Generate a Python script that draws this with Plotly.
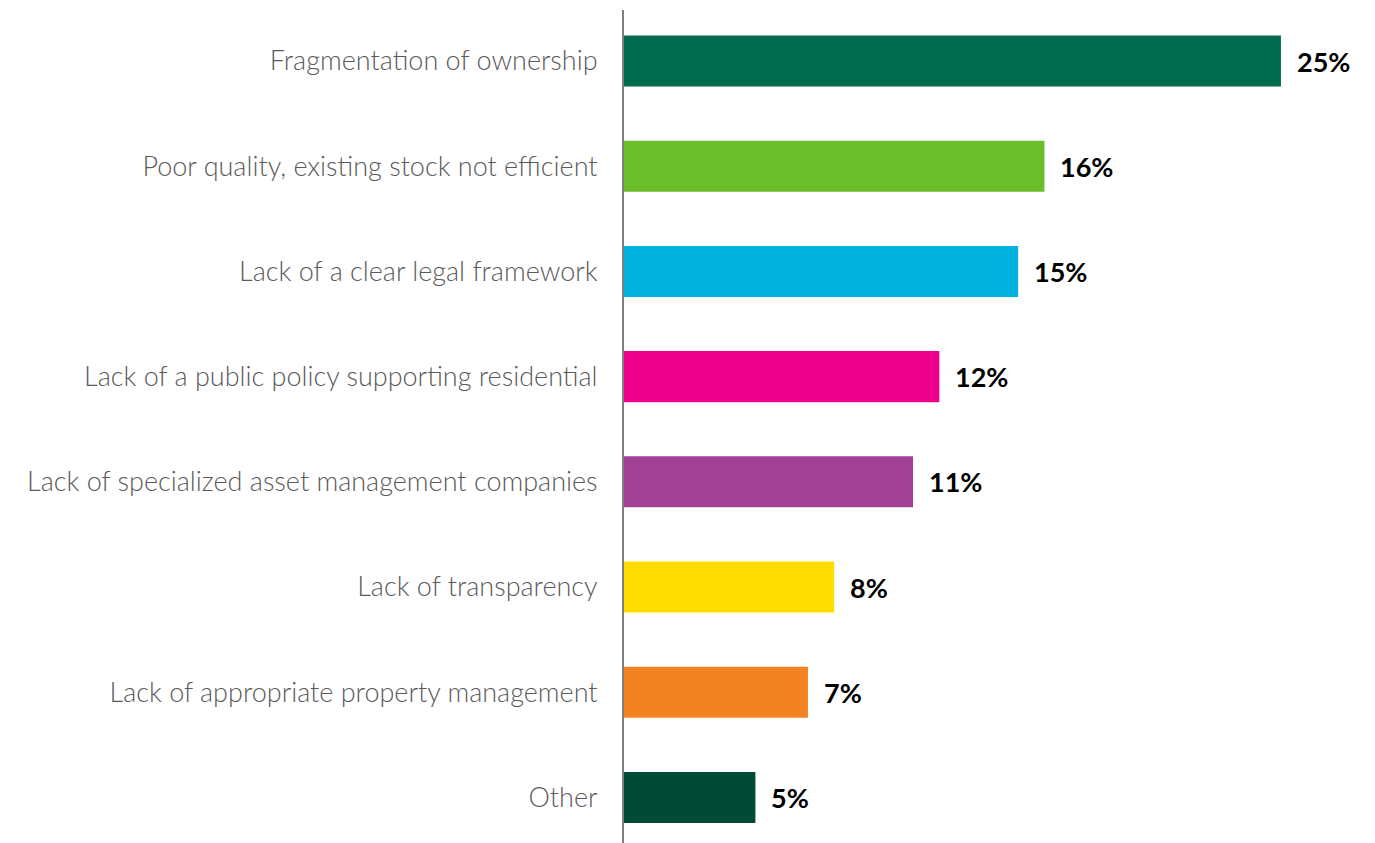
import plotly.graph_objects as go

categories = [
    "Fragmentation of ownership",
    "Poor quality, existing stock not efficient",
    "Lack of a clear legal framework",
    "Lack of a public policy supporting residential",
    "Lack of specialized asset management companies",
    "Lack of transparency",
    "Lack of appropriate property management",
    "Other",
]
values = [25, 16, 15, 12, 11, 8, 7, 5]
colors = ["#006B4D", "#6BBE2A", "#00B2DD", "#EC008C", "#A04196", "#FFDD00", "#F28222", "#004B36"]

positions = list(range(len(categories)))

fig = go.Figure(
    go.Bar(
        x=values,
        y=positions,
        orientation="h",
        marker=dict(color=colors, line=dict(width=0)),
        width=0.485,
        hoverinfo="skip",
    )
)

for pos, val in zip(positions, values):
    fig.add_annotation(
        x=val, y=pos, text=f"<b>{val}%</b>", showarrow=False,
        xanchor="left", yanchor="middle", xshift=14,
        font=dict(family="Lato", size=27, color="#000000", weight=900),
    )

fig.update_layout(
    width=1375, height=843,
    margin=dict(l=624, r=0, t=10, b=0),
    paper_bgcolor="white", plot_bgcolor="white",
    showlegend=False,
    xaxis=dict(range=[0, 28.58], visible=False),
    yaxis=dict(
        range=[7.433, -0.485],
        tickmode="array", tickvals=positions, ticktext=categories,
        tickfont=dict(family="Lato", size=27, color="#5A5A5A", weight=300),
        showline=True, linecolor="#808080", linewidth=2,
        showgrid=False, zeroline=False, ticks="", ticklabelstandoff=19,
    ),
)

fig.write_html("out.html")
